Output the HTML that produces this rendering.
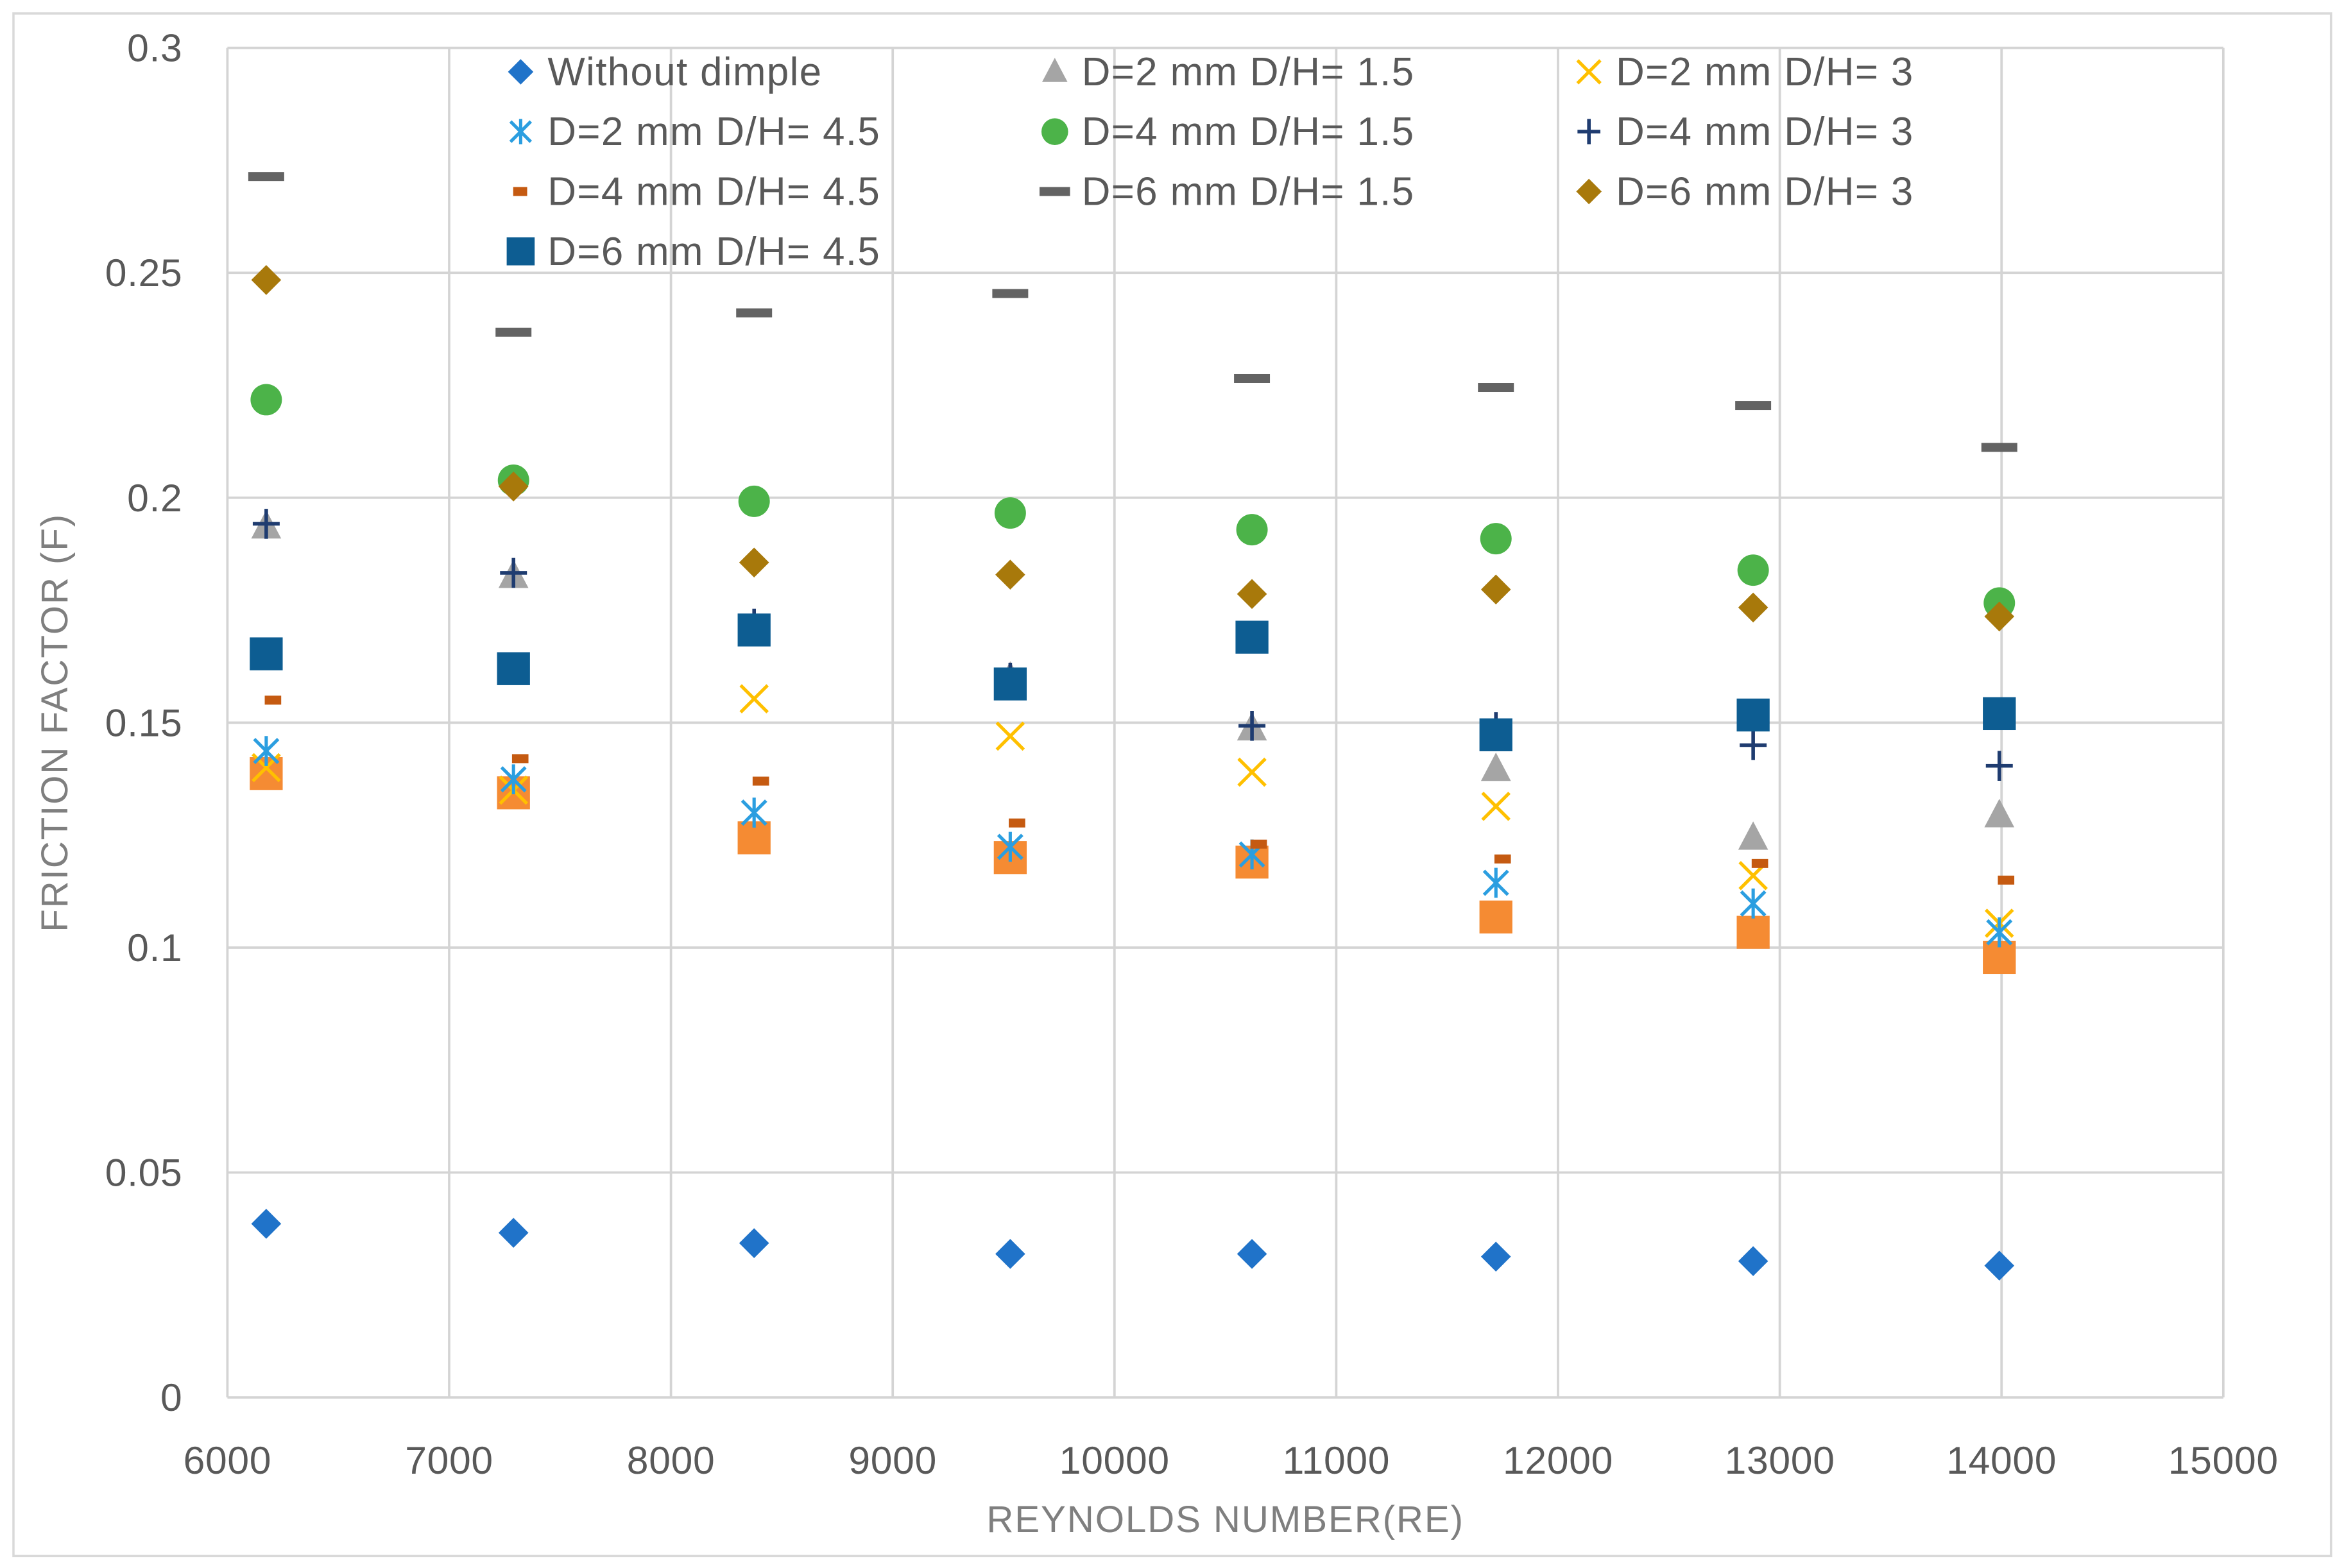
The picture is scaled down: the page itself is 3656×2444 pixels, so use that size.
<!DOCTYPE html>
<html><head><meta charset="utf-8"><style>
html,body{margin:0;padding:0;background:#fff;}
svg{display:block;font-family:"Liberation Sans",sans-serif;}
</style></head><body>
<svg id="chart" width="3656" height="2444" viewBox="0 0 1568 1048" preserveAspectRatio="none" xmlns="http://www.w3.org/2000/svg">
<rect x="9" y="9" width="1549" height="1031" fill="#fff" stroke="#d9d9d9" stroke-width="1.5"/>
<g id="grid"></g><g id="axes"></g><g id="marks"></g><g id="legend"></g>
<text x="819" y="1024" text-anchor="middle" font-size="25" letter-spacing="0.8" fill="#7f7f7f">REYNOLDS NUMBER(RE)</text>
<text transform="translate(45,483) rotate(-90)" text-anchor="middle" font-size="25" letter-spacing="0.8" fill="#7f7f7f">FRICTION FACTOR (F)</text>
</svg>
<script>
const reynolds=[6175,7290,8375,9530,10620,11720,12880,13990];
const seriesNames=["Without dimple","D=2 mm D/H= 1.5","D=2 mm D/H= 3","D=2 mm D/H= 4.5","D=4 mm D/H= 1.5","D=4 mm D/H= 3","D=4 mm D/H= 4.5","D=6 mm D/H= 1.5","D=6 mm D/H= 3","D=6 mm D/H= 4.5","Unlabeled series"];
const withoutDimple=[0.0386,0.0366,0.0343,0.0319,0.0319,0.0313,0.0303,0.0293];
const d2h15=[0.1936,0.1826,0.171,0.160,0.1487,0.1397,0.1244,0.1294];
const d2h3=[0.140,0.135,0.1553,0.147,0.139,0.1314,0.116,0.1054];
const d2h45=[0.1437,0.1374,0.130,0.1224,0.1207,0.1144,0.1098,0.1034];
const d4h15=[0.2218,0.2039,0.1992,0.1966,0.1929,0.1909,0.1839,0.1766];
const d4h3=[0.1942,0.1833,0.172,0.160,0.1493,0.149,0.145,0.1404];
const d4h45=[0.155,0.142,0.137,0.1277,0.123,0.1197,0.1187,0.115];
const d6h15=[0.2714,0.2368,0.2411,0.2454,0.2265,0.2245,0.2205,0.2112];
const d6h3=[0.2484,0.2025,0.1856,0.1829,0.1786,0.1796,0.1756,0.1736];
const d6h45=[0.1653,0.162,0.1706,0.1586,0.169,0.1473,0.1517,0.152];
const extra=[0.1387,0.1344,0.1244,0.120,0.119,0.1068,0.1034,0.0978];
const xTicks=[6000,7000,8000,9000,10000,11000,12000,13000,14000,15000];
const yTicks=[0,0.05,0.1,0.15,0.2,0.25,0.3];
const yTickLabels=["0","0.05","0.1","0.15","0.2","0.25","0.3"];

const X0=152,X1=1486,Y0=934,Y1=32;
const xs=v=>X0+(v-6000)/9000*(X1-X0);
const ys=v=>Y0-v/0.3*(Y0-Y1);
const NS="http://www.w3.org/2000/svg";
function mk(tag,attrs,parent){const e=document.createElementNS(NS,tag);for(const k in attrs)e.setAttribute(k,attrs[k]);parent.appendChild(e);return e;}
const grid=document.getElementById('grid'),axes=document.getElementById('axes'),marks=document.getElementById('marks'),legend=document.getElementById('legend');
xTicks.forEach(t=>{const l=mk('line',{x1:xs(t),x2:xs(t),y1:Y1,y2:Y0,stroke:'#d4d4d4','stroke-width':1.6},grid);


const tx=mk('text',{x:xs(t),y:Y0+51,'text-anchor':'middle','font-size':26,'letter-spacing':0.3,fill:'#595959'},axes);tx.textContent=t;

});
yTicks.forEach((t,i)=>{const l=mk('line',{x1:X0,x2:X1,y1:ys(t),y2:ys(t),stroke:'#d4d4d4','stroke-width':1.6},grid);


const tx=mk('text',{x:X0-30,y:ys(t)+9,'text-anchor':'end','font-size':26,'letter-spacing':0.3,fill:'#595959'},axes);tx.textContent=yTickLabels[i];

});

function marker(type,color,cx,cy,g,s){
 s=s||1;
 if(type==='diamond'){mk('polygon',{points:`${cx},${cy-10*s} ${cx+10*s},${cy} ${cx},${cy+10*s} ${cx-10*s},${cy}`,fill:color},g);}
 else if(type==='tri'){mk('polygon',{points:`${cx},${cy-11*s} ${cx+10*s},${cy+8*s} ${cx-10*s},${cy+8*s}`,fill:color},g);}
 else if(type==='x'){mk('path',{d:`M${cx-9*s},${cy-9*s}L${cx+9*s},${cy+9*s}M${cx+9*s},${cy-9*s}L${cx-9*s},${cy+9*s}`,stroke:color,'stroke-width':2.2},g);}
 else if(type==='star'){mk('path',{d:`M${cx-8*s},${cy-8*s}L${cx+8*s},${cy+8*s}M${cx+8*s},${cy-8*s}L${cx-8*s},${cy+8*s}M${cx},${cy-10*s}L${cx},${cy+10*s}`,stroke:color,'stroke-width':2.2},g);}
 else if(type==='circle'){mk('circle',{cx:cx,cy:cy,r:10.5*s,fill:color},g);}
 else if(type==='plus'){mk('path',{d:`M${cx-9*s},${cy}L${cx+9*s},${cy}M${cx},${cy-10*s}L${cx},${cy+10*s}`,stroke:color,'stroke-width':2.4},g);}
 else if(type==='smalldash'){mk('rect',{x:cx-1,y:cy-3,width:11*s,height:6,fill:color},g);}
 else if(type==='dash'){mk('rect',{x:cx-12*s,y:cy-3,width:24*s,height:6,fill:color},g);}
 else if(type==='square'){mk('rect',{x:cx-11*s,y:cy-11*s,width:22*s,height:22*s,fill:color},g);}
}
const series=[
 {vals:extra,type:'square',color:'#f58b33',name:'orange-square-series'},
 {vals:withoutDimple,type:'diamond',color:'#2073c9',name:'without-dimple-series'},
 {vals:d2h15,type:'tri',color:'#a5a5a5',name:'d2-h1.5-series'},
 {vals:d2h3,type:'x',color:'#ffc000',name:'d2-h3-series'},
 {vals:d2h45,type:'star',color:'#2b9ee0',name:'d2-h4.5-series'},
 {vals:d4h15,type:'circle',color:'#4cb349',name:'d4-h1.5-series'},
 {vals:d4h3,type:'plus',color:'#1f3c70',name:'d4-h3-series'},
 {vals:d4h45,type:'smalldash',color:'#c55a11',name:'d4-h4.5-series'},
 {vals:d6h15,type:'dash',color:'#636363',name:'d6-h1.5-series'},
 {vals:d6h3,type:'diamond',color:'#a8790b',name:'d6-h3-series'},
 {vals:d6h45,type:'square',color:'#0d5d92',name:'d6-h4.5-series'}
];
series.forEach(s=>{const g=mk('g',{},marks);
 
 
 s.vals.forEach((v,i)=>marker(s.type,s.color,xs(reynolds[i]),ys(v),g));});
const legSeries=series.slice(1);
legSeries.forEach((s,i)=>{const col=i%3,row=Math.floor(i/3);
 const x=348+col*357,y=48+row*40;
 const g=mk('g',{},legend);
 
 
 marker(s.type,s.color,s.type==='smalldash'?x-4:x,y,g,0.85);
 const t=mk('text',{x:x+18,y:y+9,'font-size':26.5,'letter-spacing':0.6,fill:'#595959'},g);t.textContent=seriesNames[i];});
</script>
</body></html>
